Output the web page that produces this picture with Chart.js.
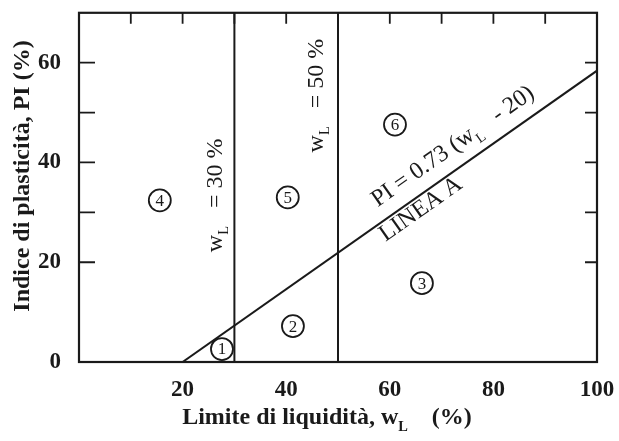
<!DOCTYPE html>
<html>
<head>
<meta charset="utf-8">
<script src="https://cdn.jsdelivr.net/npm/chart.js@4"></script>
<style>
  body { margin: 0; background: #fff; }
  #wrap { width: 619px; height: 441px; }
</style>
</head>
<body>
<div id="wrap"><canvas id="plasticityChart"></canvas></div>
<script>
// casagrande chart values
const xTickLabels = [20, 40, 60, 80, 100];
const yTickLabels = [0, 20, 40, 60];
const topTicks = [10, 20, 30, 40, 50, 60, 70, 80, 90];
const sideTicks = [20, 30, 40, 50, 60];

const lineAx = [20, 100];
const lineAy = [0, 58.4];
const limit30x = [30, 30];
const limit50x = [50, 50];
const limitY = [0, 70];

const groupLabels = ['1', '2', '3', '4', '5', '6'];
const groupX = [27.6, 41.3, 66.2, 15.6, 40.3, 61.0];
const groupY = [2.6, 7.2, 15.8, 32.4, 33.0, 47.6];

const ink = '#1a1a1a';
const serif = '"Liberation Serif", "Times New Roman", serif';

const pts = (xs, ys) => xs.map((x, i) => ({ x: x, y: ys[i] }));

// draw text made of parts, some of them subscripts, centred on (0,0)
function richText(ctx, parts, size, weight) {
    const w = weight || '';
    let total = 0;
    parts.forEach(p => {
        ctx.font = w + ' ' + (p.sub ? size * 0.6 : size) + 'px ' + serif;
        p.w = ctx.measureText(p.t).width;
        total += p.w;
    });
    let x = -total / 2;
    ctx.textBaseline = 'middle';
    ctx.textAlign = 'left';
    parts.forEach(p => {
        ctx.font = w + ' ' + (p.sub ? size * 0.6 : size) + 'px ' + serif;
        ctx.fillText(p.t, x, p.sub ? size * 0.38 : 0);
        x += p.w;
    });
}

const decorations = {
    id: 'decorations',
    afterDatasetsDraw(chart) {
        const ctx = chart.ctx;
        const a = chart.chartArea;
        const xs = chart.scales.x, ys = chart.scales.y;
        ctx.save();
        ctx.strokeStyle = ink;
        ctx.fillStyle = ink;

        // frame
        ctx.lineWidth = 2.2;
        ctx.strokeRect(a.left, a.top, a.right - a.left, a.bottom - a.top);

        // inward ticks
        ctx.lineWidth = 1.8;
        ctx.beginPath();
        topTicks.forEach(v => {
            const px = xs.getPixelForValue(v);
            ctx.moveTo(px, a.top);
            ctx.lineTo(px, a.top + 11);
        });
        sideTicks.forEach(v => {
            const py = ys.getPixelForValue(v);
            ctx.moveTo(a.left, py);
            ctx.lineTo(a.left + 16, py);
            ctx.moveTo(a.right, py);
            ctx.lineTo(a.right - 12, py);
        });
        ctx.stroke();

        // circled group numbers
        const meta = chart.getDatasetMeta(3);
        ctx.font = '17px ' + serif;
        ctx.textAlign = 'center';
        ctx.textBaseline = 'middle';
        meta.data.forEach((el, i) => {
            ctx.fillText(groupLabels[i], el.x, el.y + 1);
        });

        // rotated labels
        const place = (x, y, angle, parts, size) => {
            ctx.save();
            ctx.translate(xs.getPixelForValue(x), ys.getPixelForValue(y));
            ctx.rotate(angle);
            richText(ctx, parts, size);
            ctx.restore();
        };
        const slope = Math.atan2(
            ys.getPixelForValue(lineAy[1]) - ys.getPixelForValue(lineAy[0]),
            xs.getPixelForValue(lineAx[1]) - xs.getPixelForValue(lineAx[0]));

        place(26.3, 33.4, -Math.PI / 2,
            [{ t: 'w' }, { t: 'L', sub: true }, { t: '   = 30 %' }], 24);
        place(45.8, 53.4, -Math.PI / 2,
            [{ t: 'w' }, { t: 'L', sub: true }, { t: '   = 50 %' }], 24);
        place(72.2, 43.2, slope,
            [{ t: 'PI = 0.73 (w' }, { t: 'L', sub: true }, { t: '   - 20)' }], 24);
        place(66.0, 30.6, slope, [{ t: 'LINEA A' }], 24);

        // axis titles
        ctx.save();
        ctx.translate(327, 418);
        richText(ctx, [{ t: 'Limite di liquidità, w' }, { t: 'L', sub: true }, { t: '    (%)' }], 24, 'bold');
        ctx.restore();
        ctx.save();
        ctx.translate(23, 176);
        ctx.rotate(-Math.PI / 2);
        richText(ctx, [{ t: 'Indice di plasticità, PI (%)' }], 24, 'bold');
        ctx.restore();

        ctx.restore();
    }
};

const lineStyle = {
    type: 'line',
    borderColor: ink,
    borderWidth: 2,
    pointRadius: 0,
    fill: false
};

new Chart(document.getElementById('plasticityChart').getContext('2d'), {
    type: 'scatter',
    data: {
        datasets: [
            Object.assign({ label: 'Linea A', data: pts(lineAx, lineAy) }, lineStyle),
            Object.assign({ label: 'wL = 30 %', data: pts(limit30x, limitY) }, lineStyle),
            Object.assign({ label: 'wL = 50 %', data: pts(limit50x, limitY) }, lineStyle),
            {
                label: 'Gruppi',
                data: pts(groupX, groupY),
                pointRadius: 11,
                pointBackgroundColor: '#fff',
                pointBorderColor: ink,
                pointBorderWidth: 1.8
            }
        ]
    },
    options: {
        responsive: true,
        maintainAspectRatio: false,
        animation: false,
        layout: { padding: { left: 0, top: 6, right: 22, bottom: 0 } },
        plugins: {
            legend: { display: false },
            tooltip: { enabled: false }
        },
        scales: {
            x: {
                type: 'linear',
                min: 0,
                max: 100,
                grid: { display: false },
                border: { display: false },
                afterBuildTicks: s => { s.ticks = xTickLabels.map(v => ({ value: v })); },
                afterFit: s => { s.height = 79; s.paddingLeft = 0; s.paddingRight = 0; },
                ticks: {
                    color: ink,
                    padding: 6,
                    maxRotation: 0,
                    font: { family: serif, size: 23, weight: 'bold' }
                }
            },
            y: {
                min: 0,
                max: 70,
                grid: { display: false },
                border: { display: false },
                afterBuildTicks: s => { s.ticks = yTickLabels.map(v => ({ value: v })); },
                afterFit: s => { s.width = 79; s.paddingTop = 0; s.paddingBottom = 0; },
                ticks: {
                    color: ink,
                    padding: 10,
                    font: { family: serif, size: 23, weight: 'bold' }
                }
            }
        }
    },
    plugins: [decorations]
});
</script>
</body>
</html>
